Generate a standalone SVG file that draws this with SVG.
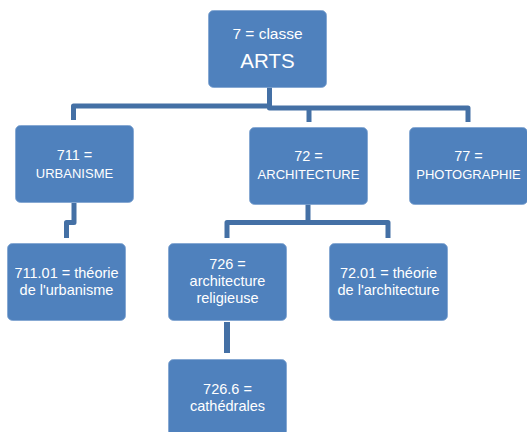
<svg xmlns="http://www.w3.org/2000/svg" width="527" height="432" viewBox="0 0 527 432">
<style>
.box{fill:#4F81BD;stroke:#7FA3D0;stroke-width:0.8}
.t{font-family:"Liberation Sans",Arial,sans-serif;fill:#fff;text-anchor:middle;font-size:13px}
.s{font-size:14.5px}
.big{font-size:20.5px}
.c{fill:none;stroke:#4470A5;stroke-width:5;stroke-linejoin:round}
</style>
<rect width="527" height="432" fill="#fff"/>
<g id="connectors">
<path class="c" d="M269.5 87 V106 H73.5 V120"/>
<path class="c" d="M269.5 106 V108 H468 V122"/>
<path class="c" d="M309 108 V122"/>
<path class="c" d="M74 203 V222.5 H66.5 V238"/>
<path class="c" d="M308 204 V222.5 H227 V238"/>
<path class="c" d="M308 222.5 H388 V238"/>
<path class="c" style="stroke-width:6" d="M227 322 V353"/>
</g>
<g id="n7">
<rect class="box" x="208.5" y="10.5" width="118" height="77" rx="5"/>
<text class="t" x="267.5" y="39" style="font-size:15.5px">7 = classe</text>
<text class="t big" x="267.5" y="68">ARTS</text>
</g>
<g id="n711">
<rect class="box" x="15.5" y="125.5" width="118" height="77" rx="5"/>
<text class="t s" x="74.5" y="160">711 =</text>
<text class="t" x="74.5" y="178">URBANISME</text>
</g>
<g id="n72">
<rect class="box" x="249.5" y="127.5" width="118" height="77" rx="5"/>
<text class="t s" x="308.5" y="161">72 =</text>
<text class="t" x="308.5" y="179">ARCHITECTURE</text>
</g>
<g id="n77">
<rect class="box" x="409.5" y="127.5" width="118" height="77" rx="5"/>
<text class="t s" x="468.5" y="161">77 =</text>
<text class="t" x="468.5" y="179">PHOTOGRAPHIE</text>
</g>
<g id="n71101">
<rect class="box" x="7.5" y="243.5" width="118" height="77" rx="5"/>
<text class="t s" x="66.5" y="278">711.01 = théorie</text>
<text class="t s" x="66.5" y="295">de l'urbanisme</text>
</g>
<g id="n726">
<rect class="box" x="168.5" y="243.5" width="118" height="77" rx="5"/>
<text class="t s" x="227.5" y="269">726 =</text>
<text class="t s" x="227.5" y="286">architecture</text>
<text class="t s" x="227.5" y="303">religieuse</text>
</g>
<g id="n7201">
<rect class="box" x="329.5" y="243.5" width="118" height="77" rx="5"/>
<text class="t s" x="388.5" y="278">72.01 = théorie</text>
<text class="t s" x="388.5" y="295">de l'architecture</text>
</g>
<g id="n7266">
<rect class="box" x="168.5" y="359.5" width="118" height="77" rx="5"/>
<text class="t s" x="227.5" y="394">726.6 =</text>
<text class="t s" x="227.5" y="411">cathédrales</text>
</g>
</svg>
